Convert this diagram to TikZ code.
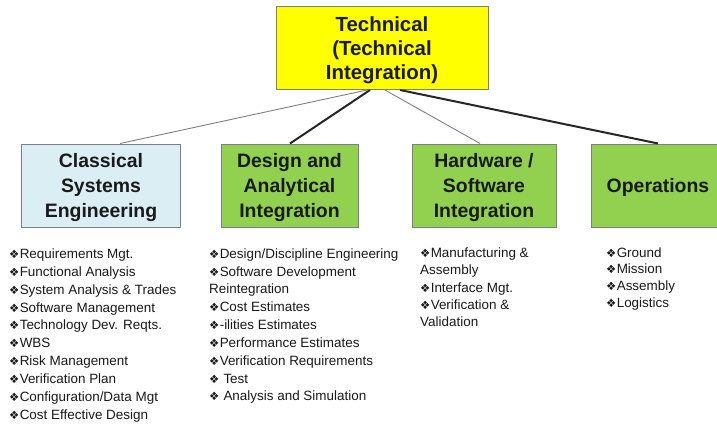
\documentclass[tikz,border=0pt]{standalone}
\usepackage{fontspec}
\setmainfont{Liberation Sans}
\newfontfamily\dejavu{DejaVu Sans}
\newcommand\bul{{\dejavu\fontsize{11.5}{11.5}\selectfont ❖}\kern0.3bp}
\definecolor{boxgreen}{HTML}{92D050}
\definecolor{boxblue}{HTML}{DBEEF4}
\definecolor{boxyellow}{HTML}{FFFF00}
\definecolor{edgegray}{HTML}{7F7F7F}
\definecolor{txt}{HTML}{1A1A1A}
\tikzset{
  titlebox/.style={draw=edgegray, line width=1bp, minimum height=83bp, inner sep=0pt,
    text depth=0bp,
    align=center, text=txt, font=\bfseries\fontsize{19.5}{25}\selectfont},
  listtext/.style={anchor=north west, inner sep=0pt, align=left, text=txt},
  thinlink/.style={draw=gray, line width=0.9bp},
  thicklink/.style={draw=black!85, line width=2bp}
}
\begin{document}
\begin{tikzpicture}[x=1bp,y=-1bp]
\useasboundingbox (0,0) rectangle (717,425);
\clip (0,0) rectangle (717,425);
\fill[white] (0,0) rectangle (717,425);
% boxes
\node[titlebox, fill=boxyellow, minimum width=212bp, font=\bfseries\fontsize{20.5}{24}\selectfont] (top) at (382,48) {Technical\\(Technical\\Integration)};
\node[titlebox, fill=boxblue, minimum width=158bp] (cls) at (101,185.5) {Classical\\Systems\\Engineering};
\node[titlebox, fill=boxgreen, minimum width=137bp] (des) at (289.5,185.5) {Design and\\Analytical\\Integration};
\node[titlebox, fill=boxgreen, minimum width=144bp] (hw) at (484,185.5) {Hardware /\\Software\\Integration};
\node[titlebox, fill=boxgreen, minimum width=134bp] (ops) at (658,185.5) {Operations};
% connectors
\draw[thinlink] ([xshift=-15bp]top.south) -- ([xshift=19bp]cls.north);
\draw[thicklink] ([xshift=-12bp]top.south) -- ([xshift=0.5bp]des.north);
\draw[thinlink] ([xshift=3bp]top.south) -- ([xshift=-4bp]hw.north);
\draw[thicklink] ([xshift=18bp]top.south) -- (ops.north);
% lists
\node[listtext, font=\fontsize{13.5}{18}\selectfont] (l1) at (9,248.3) {%
\bul Requirements Mgt.\\
\bul Functional Analysis\\
\bul System Analysis \& Trades\\
\bul Software Management\\
\bul Technology Dev. Reqts.\\
\bul WBS\\
\bul Risk Management\\
\bul Verification Plan\\
\bul Configuration/Data Mgt\\
\bul Cost Effective Design};
\node[listtext, font=\fontsize{13.5}{17.9}\selectfont] (l2) at (209,248.3) {%
\bul Design/Discipline Engineering\\
\bul Software Development\\
Reintegration\\
\bul Cost Estimates\\
\bul -ilities Estimates\\
\bul Performance Estimates\\
\bul Verification Requirements\\
\bul\ Test\\
\bul\ Analysis and Simulation};
\node[listtext, font=\fontsize{13.5}{17.5}\selectfont] (l3) at (420,247.3) {%
\bul Manufacturing \&\\
Assembly\\
\bul Interface Mgt.\\
\bul Verification \&\\
Validation};
\node[listtext, font=\fontsize{13.5}{16.7}\selectfont] (l4) at (606,247.3) {%
\bul Ground\\
\bul Mission\\
\bul Assembly\\
\bul Logistics};
\end{tikzpicture}
\end{document}
